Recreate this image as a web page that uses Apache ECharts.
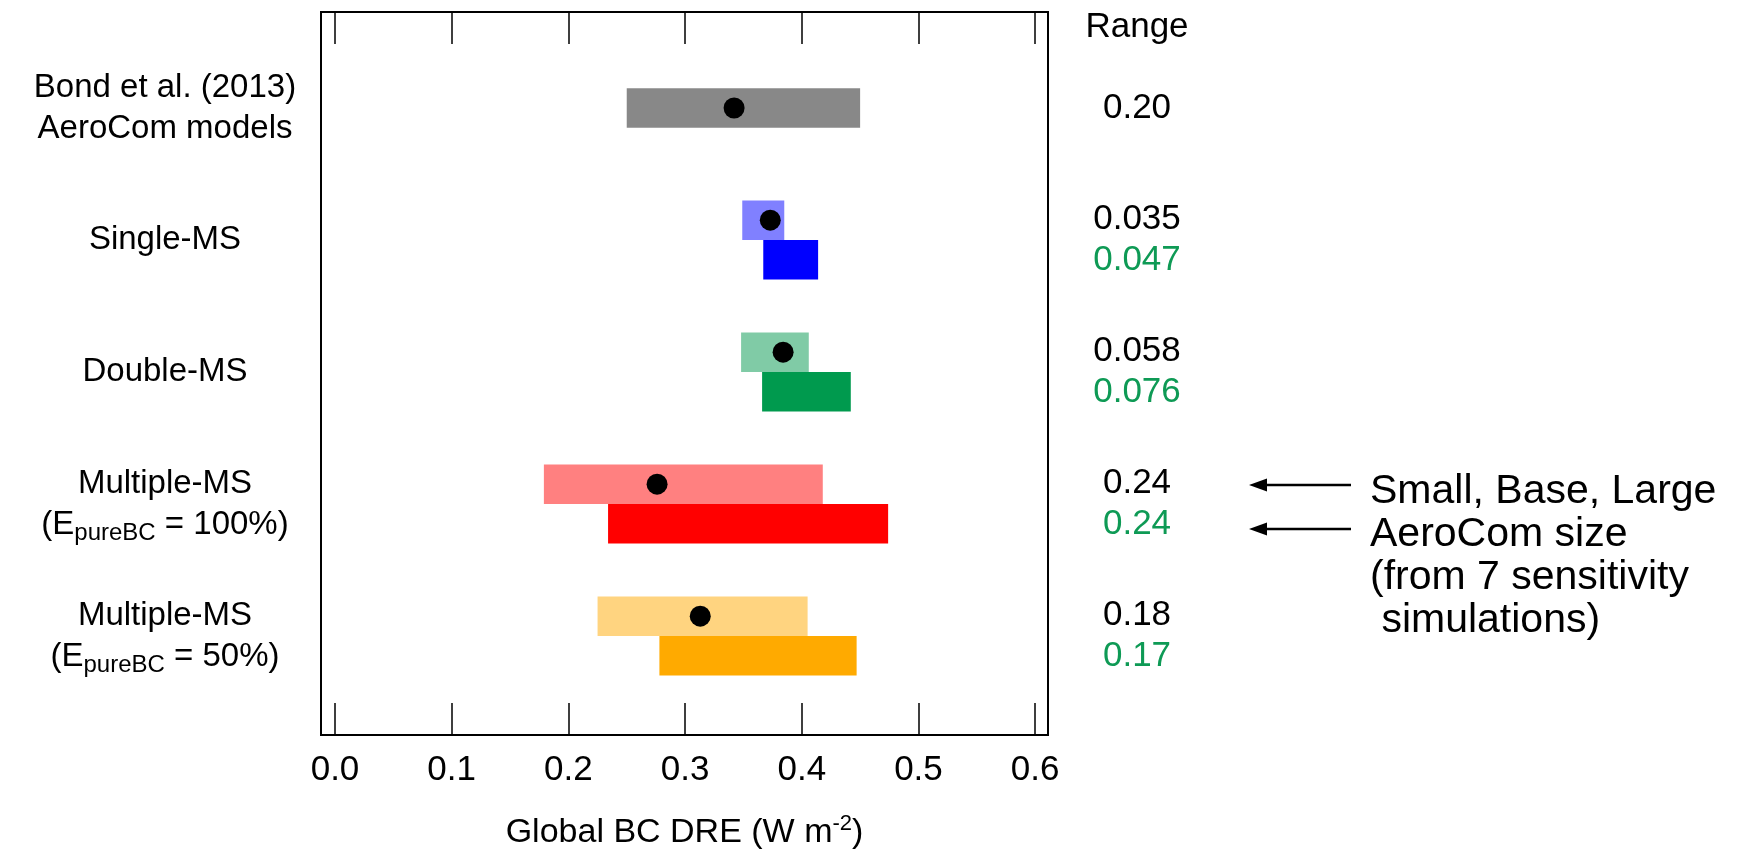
<!DOCTYPE html>
<html>
<head>
<meta charset="utf-8">
<script src="https://cdn.jsdelivr.net/npm/echarts@6/dist/echarts.min.js"></script>
<style>
  html, body { margin: 0; padding: 0; background: #fff; }
  #main { width: 1746px; height: 852px; }
</style>
</head>
<body>
<div id="main"></div>
<script>
// experiment names, top to bottom
const categories = ['Bond et al. (2013)\nAeroCom models', 'Single-MS', 'Double-MS',
  'Multiple-MS\n(E_pureBC = 100%)', 'Multiple-MS\n(E_pureBC = 50%)'];
// Small, Base, Large sizes (light bars)
const lightLow = [0.250, 0.349, 0.348, 0.179, 0.225];
const lightHigh = [0.450, 0.385, 0.406, 0.418, 0.405];
// AeroCom size (dark bars)
const darkLow = [null, 0.367, 0.366, 0.234, 0.278];
const darkHigh = [null, 0.414, 0.442, 0.474, 0.447];
// base case (black dots)
const baseValue = [0.342, 0.373, 0.384, 0.276, 0.313];
// range text
const rangeSmall = ['0.20', '0.035', '0.058', '0.24', '0.18'];
const rangeAero = ['', '0.047', '0.076', '0.24', '0.17'];
const xTicks = [0, 0.1, 0.2, 0.3, 0.4, 0.5, 0.6];

const lightColors = ['#888888', '#8080ff', '#80cba6', '#ff8080', '#ffd480'];
const darkColors = [null, '#0000ff', '#009a4e', '#ff0000', '#ffaa00'];
const GREEN = '#0e9a55';
const FONT = '"Liberation Sans", Arial, Helvetica, sans-serif';
const BAR_FRAC = 0.3;
const X_MIN = -0.012, X_MAX = 0.611;

const barData = [];
const dotData = [];
for (let i = 0; i < categories.length; i++) {
  const twoBars = darkLow[i] != null;
  barData.push({value: [lightLow[i], lightHigh[i], i, twoBars ? -1 : 0], itemStyle: {color: lightColors[i]}});
  if (twoBars) {
    barData.push({value: [darkLow[i], darkHigh[i], i, 1], itemStyle: {color: darkColors[i]}});
  }
  dotData.push([baseValue[i], i, twoBars ? -1 : 0]);
}

function slotY(center, band, slot) {
  const h = band * BAR_FRAC;
  if (slot === 0) return center - h / 2;
  return slot < 0 ? center - h : center;
}

const chart = echarts.init(document.getElementById('main'));
chart.setOption({
  animation: false,
  textStyle: {fontFamily: FONT},
  grid: [
    {left: 321, right: 698, top: 12, bottom: 117, show: true, borderColor: '#000', borderWidth: 2, outerBoundsMode: 'none'},
    {left: 321, right: 698, top: 42, height: 660, outerBoundsMode: 'none'}
  ],
  xAxis: [
    {
      gridIndex: 0, type: 'value', min: X_MIN, max: X_MAX, position: 'bottom',
      axisLine: {show: false},
      axisTick: {inside: true, length: 32, lineStyle: {color: '#000', width: 1.5}, customValues: xTicks},
      axisLabel: {customValues: xTicks, formatter: v => v.toFixed(1), fontSize: 35, color: '#000', margin: 18, fontFamily: FONT},
      splitLine: {show: false},
      name: 'Global BC DRE (W m{sup|-2})', nameLocation: 'middle', nameGap: 78,
      nameTextStyle: {fontSize: 34, color: '#000', fontFamily: FONT, lineHeight: 40,
        rich: {sup: {fontSize: 22, lineHeight: 22, verticalAlign: 'top', color: '#000', fontFamily: FONT}}}
    },
    {
      gridIndex: 0, type: 'value', min: X_MIN, max: X_MAX, position: 'top',
      axisLine: {show: false},
      axisTick: {inside: true, length: 32, lineStyle: {color: '#000', width: 1.5}, customValues: xTicks},
      axisLabel: {show: false}, splitLine: {show: false}
    },
    {gridIndex: 1, type: 'value', min: X_MIN, max: X_MAX, show: false}
  ],
  yAxis: [
    {gridIndex: 0, type: 'value', show: false},
    {
      gridIndex: 1, type: 'category', inverse: true, data: categories,
      axisLine: {show: false}, axisTick: {show: false}, splitLine: {show: false},
      axisLabel: {
        align: 'center', margin: 156, fontSize: 33, lineHeight: 41, color: '#000', fontFamily: FONT,
        formatter: v => v.replace(/_(\w+)/, '{s|$1}'),
        rich: {s: {fontSize: 24, lineHeight: 24, verticalAlign: 'bottom', color: '#000', fontFamily: FONT}}
      }
    },
    {
      gridIndex: 1, type: 'category', inverse: true, data: categories, position: 'right',
      axisLine: {show: false}, axisTick: {show: false}, splitLine: {show: false},
      axisLabel: {
        align: 'center', margin: 89,
        formatter: (v, i) => rangeAero[i] ? '{k|' + rangeSmall[i] + '}\n{g|' + rangeAero[i] + '}' : '{k|' + rangeSmall[i] + '}',
        rich: {
          k: {fontSize: 35, lineHeight: 41, color: '#000', fontFamily: FONT},
          g: {fontSize: 35, lineHeight: 41, color: GREEN, fontFamily: FONT}
        }
      }
    }
  ],
  series: [
    {
      type: 'custom', xAxisIndex: 2, yAxisIndex: 1, data: barData, z: 2,
      encode: {x: [0, 1], y: 2},
      renderItem: (params, api) => {
        const p0 = api.coord([api.value(0), api.value(2)]);
        const p1 = api.coord([api.value(1), api.value(2)]);
        const band = api.size([0, 1])[1];
        return {
          type: 'rect',
          shape: {x: p0[0], y: slotY(p0[1], band, api.value(3)), width: p1[0] - p0[0], height: band * BAR_FRAC},
          style: {fill: api.visual('color')}
        };
      }
    },
    {
      type: 'custom', xAxisIndex: 2, yAxisIndex: 1, data: dotData, z: 3,
      encode: {x: 0, y: 1},
      renderItem: (params, api) => {
        const p = api.coord([api.value(0), api.value(1)]);
        const band = api.size([0, 1])[1];
        const h = band * BAR_FRAC;
        const cy = api.value(2) < 0 ? p[1] - h / 2 : p[1];
        return {type: 'circle', shape: {cx: p[0], cy: cy, r: 10.5}, style: {fill: '#000'}};
      }
    }
  ]
});

// header and annotation placed against the Multiple-MS (100%) row
const rowY = chart.convertToPixel({xAxisIndex: 2, yAxisIndex: 1}, [0, 3])[1];
const a1 = rowY - 19, a2 = rowY + 25;
function arrow(y) {
  return [
    {type: 'line', shape: {x1: 1264, y1: y, x2: 1351, y2: y}, style: {stroke: '#000', lineWidth: 2.5}},
    {type: 'polygon', shape: {points: [[1249, y], [1267, y - 6.5], [1267, y + 6.5]]}, style: {fill: '#000'}}
  ];
}
chart.setOption({
  graphic: [
    {type: 'text', x: 1137, y: 27, style: {text: 'Range', font: '35px ' + FONT, fill: '#000', textAlign: 'center', textVerticalAlign: 'middle'}},
    ...arrow(a1), ...arrow(a2),
    {type: 'text', x: 1370, y: a1 + 7 - 21.5, style: {
      text: 'Small, Base, Large\nAeroCom size\n(from 7 sensitivity\n simulations)',
      font: '41px ' + FONT, lineHeight: 43, fill: '#000', textAlign: 'left', textVerticalAlign: 'top'}}
  ]
});
</script>
</body>
</html>
